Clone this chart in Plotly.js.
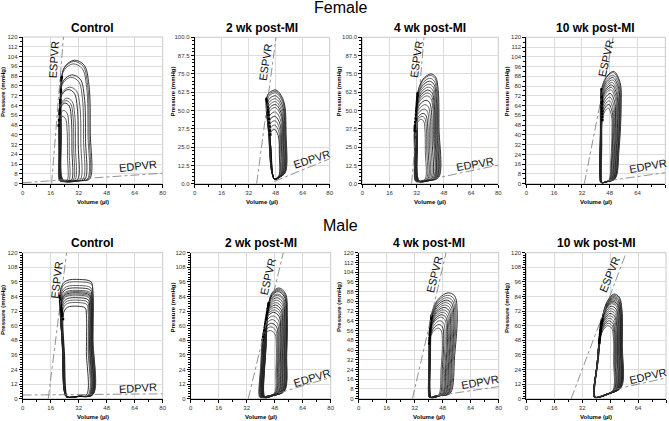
<!DOCTYPE html>
<html>
<head>
<meta charset="utf-8">
<script src="https://cdn.plot.ly/plotly-3.0.1.min.js"></script>
<style>
  body { margin: 0; background: #fff; }
  #plot { width: 669px; height: 421px; }
</style>
</head>
<body>
<div id="plot"></div>
<script>
// ---- values (volume in ul, pressure in mmHg) ----

// Female, control
var fCtrlPmax = [101, 100, 98, 89, 87, 79, 77, 70, 68, 66, 60, 55];
var fCtrlEsv  = [22.3, 22.2, 22.0, 21.8, 21.7, 21.5, 21.4, 21.2, 21.1, 21.0, 20.8, 20.6];
var fCtrlEdv  = [38.3, 37.6, 37.0, 35.6, 34.5, 33.0, 31.5, 30.0, 29.0, 28.0, 26.5, 25.5];
var fCtrlEspvrV = [16.5, 23.3], fCtrlEspvrP = [0, 120];
var fCtrlEdpvrV = [0, 80],      fCtrlEdpvrP = [0.8, 8.6];

// Female, 2 wk post-MI
var f2Pmax = [64, 63, 62, 60, 58, 56, 54, 52, 49, 46, 43, 40, 37];
var f2Esv  = [42.5, 42.6, 42.8, 43.0, 43.2, 43.4, 43.6, 43.8, 44.0, 44.2, 44.4, 44.6, 44.8];
var f2Edv  = [53.8, 53.6, 53.4, 53.1, 52.8, 52.5, 52.2, 51.9, 51.6, 51.2, 50.8, 50.4, 50.0];
var f2EspvrV = [36.7, 48.2], f2EspvrP = [0, 100];
var f2EdpvrV = [47, 80],     f2EdpvrP = [1.5, 17];

// Female, 4 wk post-MI
var f4Pmax = [75, 74, 72, 70, 68, 66, 64, 62, 60, 57, 54, 51, 48, 46, 44];
var f4Esv  = [32.6, 32.5, 32.4, 32.3, 32.2, 32.1, 32.0, 31.9, 31.8, 31.6, 31.4, 31.2, 31.0, 30.9, 30.8];
var f4Edv  = [45.0, 44.6, 44.2, 43.8, 43.4, 43.0, 42.6, 42.2, 41.8, 41.0, 40.2, 39.4, 38.6, 37.8, 37.0];
var f4EspvrV = [29, 36.3], f4EspvrP = [0, 100];
var f4EdpvrV = [40, 80],   f4EdpvrP = [3, 12.7];

// Female, 10 wk post-MI
var f10Pmax = [92, 91, 89, 87, 85, 83, 81, 79, 77, 74, 71, 68, 65, 62];
var f10Esv  = [42.4, 42.4, 42.5, 42.5, 42.6, 42.6, 42.7, 42.7, 42.8, 42.9, 43.0, 43.1, 43.2, 43.3];
var f10Edv  = [54.6, 54.3, 54.0, 53.7, 53.4, 53.0, 52.6, 52.2, 51.8, 51.3, 50.8, 50.3, 49.8, 49.3];
var f10EspvrV = [33.4, 50], f10EspvrP = [0, 120];
var f10EdpvrV = [47, 80],   f10EdpvrP = [2.5, 9];

// Male, control
var mCtrlPmax = [98, 96, 93, 91, 89, 88, 87, 86, 85, 83, 81, 79, 76];
var mCtrlEsv  = [21.3, 21.3, 21.4, 21.5, 21.6, 21.7, 21.8, 21.9, 22.0, 22.2, 22.4, 22.6, 23.0];
var mCtrlEdv  = [40.0, 40.2, 39.8, 39.6, 39.4, 39.2, 39.0, 38.8, 38.5, 38.2, 37.8, 37.4, 36.4];
var mCtrlEspvrV = [14.6, 25.1], mCtrlEspvrP = [0, 120];
var mCtrlEdpvrV = [0, 80],      mCtrlEdpvrP = [3, 4];

// Male, 2 wk post-MI
var m2Pmax = [91, 90, 89, 88, 86, 85, 83, 81, 79, 77, 75, 73, 71, 68, 65, 62, 59, 56];
var m2Esv  = [44.6, 44.5, 44.4, 44.3, 44.1, 44.0, 43.8, 43.6, 43.4, 43.2, 43.0, 42.8, 42.6, 42.3, 42.0, 41.7, 41.4, 41.1];
var m2Edv  = [55.2, 55.0, 54.8, 54.6, 54.3, 54.0, 53.7, 53.4, 53.0, 52.6, 52.2, 51.8, 51.4, 50.9, 50.4, 49.9, 49.4, 48.9];
var m2EspvrV = [32.9, 52.9], m2EspvrP = [0, 120];
var m2EdpvrV = [50, 80],     m2EdpvrP = [4.5, 17.5];

// Male, 4 wk post-MI
var m4Pmax = [87, 85, 83, 81, 79, 77, 75, 73, 71, 69, 67, 64, 61, 58];
var m4Esv  = [41.6, 41.5, 41.4, 41.3, 41.2, 41.1, 41.0, 40.9, 40.8, 40.7, 40.6, 40.5, 40.4, 40.3];
var m4Edv  = [56.3, 55.6, 55.0, 54.4, 53.8, 53.2, 52.6, 52.0, 51.4, 50.8, 50.2, 49.4, 48.6, 47.8];
var m4EspvrV = [30.7, 49.9], m4EspvrP = [0, 120];
var m4EdpvrV = [45, 80],     m4EdpvrP = [2.5, 10];

// Male, 10 wk post-MI
var m10Pmax = [86, 85, 84, 83, 82, 81, 80, 79, 78, 76, 74, 72, 70, 68, 66, 64, 62, 60];
var m10Esv  = [43.5, 43.4, 43.3, 43.2, 43.1, 43.0, 42.9, 42.8, 42.7, 42.6, 42.5, 42.4, 42.3, 42.2, 42.1, 42.0, 41.9, 41.8];
var m10Edv  = [55.0, 54.8, 54.6, 54.4, 54.2, 54.0, 53.8, 53.5, 53.2, 52.9, 52.6, 52.3, 52.0, 51.6, 51.2, 50.8, 50.4, 50.0];
var m10EspvrV = [25.7, 57.2], m10EspvrP = [0, 120];
var m10EdpvrV = [50, 80],     m10EdpvrP = [7.5, 17];

var panelTitles = ['Control', '2 wk post-MI', '4 wk post-MI', '10 wk post-MI'];
var groupTitles = ['Female', 'Male'];
var xTitle = 'Volume (µl)';
var yTitle = 'Pressure (mmHg)';

// ---- loop outlines: [fraction of ESV->EDV width, fraction of floor->Pmax] ----
var domeF  = [[0,0.86],[-0.01,0.4],[0.01,0.03],[0.12,0],[0.7,0.005],[1,0.02],[1.02,0.4],[0.97,0.8],[0.8,0.96],[0.45,1],[0.12,0.95],[0,0.86]];
var ovalF  = [[0,0.9],[0.12,0.5],[0.28,0.08],[0.45,0],[0.75,0.03],[1,0.08],[1.03,0.5],[0.9,0.88],[0.5,1],[0.15,0.97],[0,0.9]];
var dome4F = [[0,0.82],[-0.01,0.4],[0.01,0.03],[0.12,0],[0.6,0.01],[1,0.04],[1.01,0.5],[0.97,0.85],[0.85,0.97],[0.62,1],[0.25,0.95],[0,0.82]];
var dome10F= [[0.08,0.84],[0.02,0.45],[0,0.05],[0.05,0],[0.4,0.01],[0.72,0.035],[0.9,0.3],[1,0.7],[0.95,0.9],[0.65,1],[0.3,0.95],[0.08,0.84]];
var boxM   = [[0,0.86],[0.07,0.45],[0.13,0.05],[0.2,0],[0.6,0.005],[1,0.02],[1,0.5],[1,0.9],[0.95,0.98],[0.6,1],[0.2,0.99],[0.06,0.95],[0,0.86]];
var slant2M= [[0,0.86],[-0.15,0.45],[-0.27,0.04],[-0.2,0],[0.3,0.02],[0.85,0.06],[0.97,0.4],[1,0.75],[0.9,0.95],[0.55,1],[0.2,0.96],[0,0.86]];
var slant4M= [[0,0.78],[-0.04,0.4],[-0.05,0.04],[0,0],[0.4,0.02],[0.73,0.04],[0.9,0.4],[1,0.8],[0.9,0.97],[0.65,1],[0.3,0.95],[0.05,0.84],[0,0.78]];
var slant10M=[[0,0.76],[-0.18,0.4],[-0.38,0.02],[-0.3,0],[0.4,0.04],[0.95,0.1],[1,0.5],[0.98,0.85],[0.85,0.97],[0.58,1],[0.25,0.93],[0,0.76]];

var W = 669, H = 421;
function px(x) { return x / W; }
function py(y) { return 1 - y / H; }

// dom = [left, right, top, bottom] in pixels
var panels = [
  {pmax: fCtrlPmax, esv: fCtrlEsv, edv: fCtrlEdv, esV: fCtrlEspvrV, esP: fCtrlEspvrP, edV: fCtrlEdpvrV, edP: fCtrlEdpvrP,
   shape: domeF, floor: 2, ymax: 120, dy: 8, minor: 4, fmt: '', dom: [22.7, 162.7, 37, 183.7],
   esLab: [17.9, 101, -86], edLab: [65.8, 14.6, -6], yt: [3, 92]},
  {pmax: f2Pmax, esv: f2Esv, edv: f2Edv, esV: f2EspvrV, esP: f2EspvrP, edV: f2EdpvrV, edP: f2EdpvrP,
   shape: ovalF, floor: 3, ymax: 100, dy: 12.5, minor: 2.5, fmt: '.1f', dom: [194.7, 329.7, 37.3, 183.7],
   esLab: [42, 83, -81], edLab: [69.5, 16.7, -18], yt: [172.5, 92]},
  {pmax: f4Pmax, esv: f4Esv, edv: f4Edv, esV: f4EspvrV, esP: f4EspvrP, edV: f4EdpvrV, edP: f4EdpvrP,
   shape: dome4F, floor: 1.5, ymax: 100, dy: 12.5, minor: 2.5, fmt: '.1f', dom: [362.3, 498.3, 37.3, 183.7],
   esLab: [32, 85, -82], edLab: [66.5, 13.3, -10], yt: [338.5, 92]},
  {pmax: f10Pmax, esv: f10Esv, edv: f10Edv, esV: f10EspvrV, esP: f10EspvrP, edV: f10EdpvrV, edP: f10EdpvrP,
   shape: dome10F, floor: 1, ymax: 120, dy: 8, minor: 4, fmt: '', dom: [526.3, 665.3, 37.3, 183.7],
   esLab: [45.5, 102.6, -77], edLab: [70.2, 14.3, -10], yt: [506.5, 92]},
  {pmax: mCtrlPmax, esv: mCtrlEsv, edv: mCtrlEdv, esV: mCtrlEspvrV, esP: mCtrlEspvrP, edV: mCtrlEdpvrV, edP: mCtrlEdpvrP,
   shape: boxM, floor: 1.5, ymax: 120, dy: 12, minor: 2, fmt: '', dom: [22.7, 162.7, 252.7, 398.7],
   esLab: [19.4, 97.6, -83], edLab: [65.8, 8.5, -4], yt: [3, 310]},
  {pmax: m2Pmax, esv: m2Esv, edv: m2Edv, esV: m2EspvrV, esP: m2EspvrP, edV: m2EdpvrV, edP: m2EdpvrP,
   shape: slant2M, floor: 1, ymax: 120, dy: 12, minor: 2, fmt: '', dom: [190.7, 330.7, 252.7, 398.7],
   esLab: [43.9, 100.3, -77], edLab: [69.1, 17.4, -17], yt: [172.5, 308]},
  {pmax: m4Pmax, esv: m4Esv, edv: m4Edv, esV: m4EspvrV, esP: m4EspvrP, edV: m4EdpvrV, edP: m4EdpvrP,
   shape: slant4M, floor: 1, ymax: 120, dy: 8, minor: 2, fmt: '', dom: [358.7, 498.7, 252.7, 398.7],
   esLab: [43.1, 101.7, -76], edLab: [69.5, 14, -10], yt: [339, 307]},
  {pmax: m10Pmax, esv: m10Esv, edv: m10Edv, esV: m10EspvrV, esP: m10EspvrP, edV: m10EdpvrV, edP: m10EdpvrP,
   shape: slant10M, floor: 1, ymax: 120, dy: 12, minor: 2, fmt: '', dom: [526.3, 666, 252.7, 398.7],
   esLab: [47.9, 102.3, -68], edLab: [69.8, 18.8, -13], yt: [507, 308]}
];

var traces = [];
var layout = {
  width: W, height: H,
  margin: {l: 0, r: 0, t: 0, b: 0},
  paper_bgcolor: '#fff', plot_bgcolor: '#fff',
  showlegend: false,
  font: {family: 'Liberation Sans, Arial, sans-serif', color: '#000'},
  annotations: [], shapes: []
};

var fontFam = 'Liberation Sans, Arial, sans-serif';

panels.forEach(function (p, k) {
  var n = k + 1;
  var xa = 'x' + (n === 1 ? '' : n), ya = 'y' + (n === 1 ? '' : n);
  var xKey = 'xaxis' + (n === 1 ? '' : n), yKey = 'yaxis' + (n === 1 ? '' : n);

  // pressure-volume loops
  var esX = [], esY = [];
  for (var i = 0; i < p.pmax.length; i++) {
    var w = p.edv[i] - p.esv[i];
    var xs = [], ys = [];
    p.shape.forEach(function (pt) {
      xs.push(p.esv[i] + pt[0] * w);
      ys.push(p.floor + pt[1] * (p.pmax[i] - p.floor));
    });
    esX.push(xs[0]); esY.push(ys[0]);
    traces.push({
      x: xs, y: ys, xaxis: xa, yaxis: ya, type: 'scatter', mode: 'lines',
      line: {color: i % 3 === 0 ? '#000' : '#3a3a3a', width: 0.8, shape: 'spline', smoothing: 1},
      hoverinfo: 'skip'
    });
  }
  // end-systolic points
  traces.push({
    x: esX, y: esY, xaxis: xa, yaxis: ya, type: 'scatter', mode: 'markers',
    marker: {color: '#000', size: 2.5, symbol: 'square'}, hoverinfo: 'skip'
  });
  // ESPVR / EDPVR
  traces.push({
    x: p.esV, y: p.esP, xaxis: xa, yaxis: ya, type: 'scatter', mode: 'lines',
    line: {color: '#777', width: 0.8, dash: 'dashdot'}, hoverinfo: 'skip'
  });
  traces.push({
    x: p.edV, y: p.edP, xaxis: xa, yaxis: ya, type: 'scatter', mode: 'lines',
    line: {color: '#777', width: 0.8, dash: 'dashdot'}, hoverinfo: 'skip'
  });

  var axisCommon = {
    ticks: 'outside', ticklen: 3, tickwidth: 1, tickcolor: '#000',
    showline: true, linecolor: '#000', linewidth: 1,
    showgrid: true, gridcolor: '#dcdcdc', gridwidth: 1,
    zeroline: false, fixedrange: true,
    tickfont: {size: 6, color: '#333', family: fontFam}
  };
  layout[xKey] = Object.assign({}, axisCommon, {
    domain: [px(p.dom[0]), px(p.dom[1])], anchor: ya,
    range: [0, 80], tick0: 0, dtick: 16,
    minor: {dtick: 8, ticklen: 2, tickcolor: '#000', ticks: 'outside', showgrid: false}
  });
  layout[yKey] = Object.assign({}, axisCommon, {
    domain: [py(p.dom[3]), py(p.dom[2])], anchor: xa,
    range: [0, p.ymax], tick0: 0, dtick: p.dy, tickformat: p.fmt,
    minor: {dtick: p.minor, ticklen: 2, tickcolor: '#000', ticks: 'outside', showgrid: false}
  });

  // light frame around plot area
  layout.shapes.push({
    type: 'rect', xref: xa + ' domain', yref: ya + ' domain', x0: 0, x1: 1, y0: 0, y1: 1,
    line: {color: '#c8c8c8', width: 1}, layer: 'below'
  });

  var cx = (p.dom[0] + p.dom[1]) / 2;
  var row = k < 4 ? 0 : 1;
  // panel title
  layout.annotations.push({
    xref: 'paper', yref: 'paper', x: px(cx), y: py(row === 0 ? 28 : 243),
    text: '<b>' + panelTitles[k % 4] + '</b>', showarrow: false,
    font: {size: 12, family: fontFam}, xanchor: 'center', yanchor: 'middle'
  });
  // axis titles
  layout.annotations.push({
    xref: 'paper', yref: 'paper', x: px(cx), y: py(row === 0 ? 202 : 416.5),
    text: '<b>' + xTitle + '</b>', showarrow: false,
    font: {size: 6, family: fontFam}, xanchor: 'center', yanchor: 'middle'
  });
  layout.annotations.push({
    xref: 'paper', yref: 'paper', x: px(p.yt[0]), y: py(p.yt[1]),
    text: '<b>' + yTitle + '</b>', showarrow: false, textangle: -90,
    font: {size: 6, family: fontFam}, xanchor: 'center', yanchor: 'middle'
  });
  // line labels
  layout.annotations.push({
    xref: xa, yref: ya, x: p.esLab[0], y: p.esLab[1], text: 'ESPVR', showarrow: false,
    textangle: p.esLab[2], font: {size: 11, family: fontFam, color: '#111'}
  });
  layout.annotations.push({
    xref: xa, yref: ya, x: p.edLab[0], y: p.edLab[1], text: 'EDPVR', showarrow: false,
    textangle: p.edLab[2], font: {size: 11, family: fontFam, color: '#111'}
  });
});

// group titles
layout.annotations.push({
  xref: 'paper', yref: 'paper', x: px(340), y: py(8), text: groupTitles[0], showarrow: false,
  font: {size: 16, family: fontFam}, xanchor: 'center', yanchor: 'middle'
});
layout.annotations.push({
  xref: 'paper', yref: 'paper', x: px(340), y: py(225), text: groupTitles[1], showarrow: false,
  font: {size: 16, family: fontFam}, xanchor: 'center', yanchor: 'middle'
});

Plotly.newPlot('plot', traces, layout, {staticPlot: true, displayModeBar: false});
</script>
</body>
</html>
